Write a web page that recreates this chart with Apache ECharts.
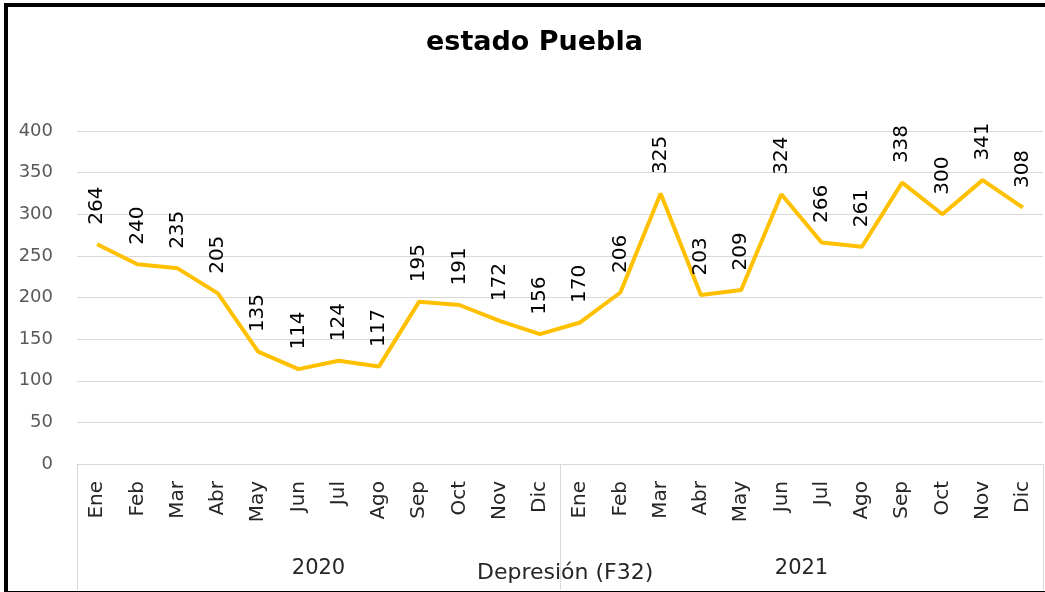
<!DOCTYPE html>
<html><head><meta charset="utf-8">
<script src="https://cdn.jsdelivr.net/npm/echarts@6/dist/echarts.min.js"></script>
<style>
html,body{margin:0;padding:0;background:#fff;}
#c{position:absolute;left:0;top:0;width:1045px;height:592px;}
#b{position:absolute;left:4px;top:3px;width:1100px;height:584px;border-left:4px solid #000;border-top:4px solid #000;border-bottom:3px solid #000;pointer-events:none;}
</style></head>
<body>
<div id="c"></div><div id="b"></div>
<script>
const months = ['Ene','Feb','Mar','Abr','May','Jun','Jul','Ago','Sep','Oct','Nov','Dic','Ene','Feb','Mar','Abr','May','Jun','Jul','Ago','Sep','Oct','Nov','Dic'];
const years = ['2020','2021'];
const values = [264,240,235,205,135,114,124,117,195,191,172,156,170,206,325,203,209,324,266,261,338,300,341,308];
const yTicks = {min:0, max:400, interval:50};
const titleText = 'estado Puebla';
const axisTitle = 'Depresión (F32)';

const F = 'DejaVu Sans';
const chart = echarts.init(document.getElementById('c'));
const gridRect = {left:77, right:2, top:131, bottom:128};
chart.setOption({
  animation:false,
  backgroundColor:'#fff',
  title:[
    {text:titleText, left:421, top:24, textStyle:{fontFamily:F, fontWeight:'bold', fontSize:27, color:'#000'}},
    {text:axisTitle, left:477, top:562, padding:0, textStyle:{fontFamily:F, fontWeight:'normal', fontSize:22, color:'#262626'}}
  ],
  grid:[Object.assign({}, gridRect), Object.assign({}, gridRect)],
  xAxis:[
    {type:'category', gridIndex:0, data:months, boundaryGap:true,
     axisLine:{show:true, lineStyle:{color:'#d9d9d9', width:1}},
     axisTick:{show:false},
     axisLabel:{rotate:90, margin:17, fontFamily:F, fontSize:20, color:'#262626', interval:0}},
    {type:'category', gridIndex:1, data:years, boundaryGap:true, position:'bottom',
     axisLine:{show:false},
     axisTick:{show:true, length:126, lineStyle:{color:'#d9d9d9', width:1}},
     axisLabel:{margin:94, fontFamily:F, fontSize:21, color:'#262626'}}
  ],
  yAxis:[
    {type:'value', gridIndex:0, min:yTicks.min, max:yTicks.max, interval:yTicks.interval,
     axisLine:{show:false}, axisTick:{show:false},
     splitLine:{lineStyle:{color:'#d9d9d9', width:1}},
     axisLabel:{margin:24, fontFamily:F, fontSize:18, color:'#595959'}},
    {type:'value', gridIndex:1, min:yTicks.min, max:yTicks.max, show:false}
  ],
  series:[{
    type:'line', xAxisIndex:0, yAxisIndex:0, data:values,
    showSymbol:true, symbol:'circle', symbolSize:1,
    lineStyle:{color:'#FFC000', width:4},
    itemStyle:{color:'rgba(255,192,0,0)'},
    label:{show:true, position:'top', distance:19, rotate:90, align:'left', verticalAlign:'middle',
      fontFamily:F, fontSize:20, color:'#000'}
  }]
});
</script>
</body></html>
